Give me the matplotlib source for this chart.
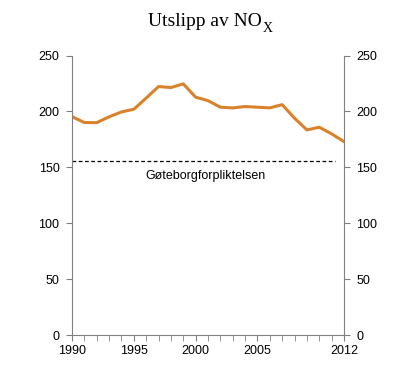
import matplotlib.pyplot as plt

# data
years = list(range(1990, 2013))
nox = [195.4, 190.1, 190.0, 195.2, 199.6, 202.0, 212.0, 222.3, 221.4, 224.7,
       212.8, 209.7, 203.8, 203.2, 204.4, 203.8, 203.2, 206.1, 194.0, 183.5,
       185.9, 180.0, 173.0]
target = 156
target_label = "Gøteborgforpliktelsen"
xtick_labels = [1990, 1995, 2000, 2005, 2012]
yticks = [0, 50, 100, 150, 200, 250]

plt.rcParams['font.family'] = ['Liberation Sans', 'DejaVu Sans']

fig = plt.figure(figsize=(4, 3.86), dpi=100)
ax = fig.add_axes([0.18, 0.132, 0.68, 0.724])

ax.plot(years, nox, color='#D9822B', lw=2.2)
ax.plot([1990, 2011.3], [target, target], color='black', lw=0.9, ls=(0, (3, 2)))
ax.text(2000.8, target - 14, target_label, ha='center', va='center', fontsize=9)

ax.set_xlim(1990, 2012)
ax.set_ylim(0, 250)
ax.set_xticks(years, minor=True)
ax.set_xticks(xtick_labels)
ax.set_yticks(yticks)
ax.tick_params(axis='x', which='both', direction='out', length=4, color='#808080',
               labelsize=9, pad=3)
ax.tick_params(axis='y', direction='out', length=4, color='#808080', labelsize=9,
               left=True, right=True, labelleft=True, labelright=True, pad=5)

ax.spines['top'].set_visible(False)
for s in ['left', 'right', 'bottom']:
    ax.spines[s].set_color('#808080')

# tittel med senket X
fig.text(0.655, 0.945, 'Utslipp av NO', ha='right', va='center',
         fontsize=14, family='Liberation Serif')
fig.text(0.657, 0.925, 'X', ha='left', va='center',
         fontsize=10, family='Liberation Serif')

fig.savefig('out.png', dpi=100)
